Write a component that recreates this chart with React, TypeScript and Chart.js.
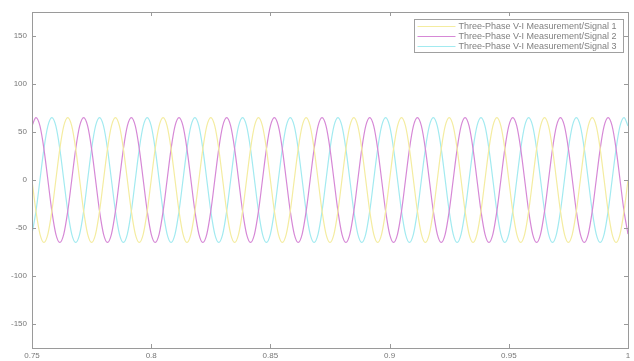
import React, { useEffect, useRef } from "react";
import { Chart, registerables } from "chart.js";

Chart.register(...registerables);

// Sample grid of the scope trace (seconds)
const sampleStart = 0.75;
const sampleStep = 1 / 600;

// Signal 1 (yellow)
const signal1 = [
  0, -32.5, -56.3, -65, -56.3, -32.5, 0, 32.5, 56.3, 65, 56.3, 32.5,
  0, -32.5, -56.3, -65, -56.3, -32.5, 0, 32.5, 56.3, 65, 56.3, 32.5,
  0, -32.5, -56.3, -65, -56.3, -32.5, 0, 32.5, 56.3, 65, 56.3, 32.5,
  0, -32.5, -56.3, -65, -56.3, -32.5, 0, 32.5, 56.3, 65, 56.3, 32.5,
  0, -32.5, -56.3, -65, -56.3, -32.5, 0, 32.5, 56.3, 65, 56.3, 32.5,
  0, -32.5, -56.3, -65, -56.3, -32.5, 0, 32.5, 56.3, 65, 56.3, 32.5,
  0, -32.5, -56.3, -65, -56.3, -32.5, 0, 32.5, 56.3, 65, 56.3, 32.5,
  0, -32.5, -56.3, -65, -56.3, -32.5, 0, 32.5, 56.3, 65, 56.3, 32.5,
  0, -32.5, -56.3, -65, -56.3, -32.5, 0, 32.5, 56.3, 65, 56.3, 32.5,
  0, -32.5, -56.3, -65, -56.3, -32.5, 0, 32.5, 56.3, 65, 56.3, 32.5,
  0, -32.5, -56.3, -65, -56.3, -32.5, 0, 32.5, 56.3, 65, 56.3, 32.5,
  0, -32.5, -56.3, -65, -56.3, -32.5, 0, 32.5, 56.3, 65, 56.3, 32.5,
  0, -32.5, -56.3, -65, -56.3, -32.5, 0,
];

// Signal 2 (magenta)
const signal2 = [
  56.3, 65, 56.3, 32.5, 0, -32.5, -56.3, -65, -56.3, -32.5, 0, 32.5,
  56.3, 65, 56.3, 32.5, 0, -32.5, -56.3, -65, -56.3, -32.5, 0, 32.5,
  56.3, 65, 56.3, 32.5, 0, -32.5, -56.3, -65, -56.3, -32.5, 0, 32.5,
  56.3, 65, 56.3, 32.5, 0, -32.5, -56.3, -65, -56.3, -32.5, 0, 32.5,
  56.3, 65, 56.3, 32.5, 0, -32.5, -56.3, -65, -56.3, -32.5, 0, 32.5,
  56.3, 65, 56.3, 32.5, 0, -32.5, -56.3, -65, -56.3, -32.5, 0, 32.5,
  56.3, 65, 56.3, 32.5, 0, -32.5, -56.3, -65, -56.3, -32.5, 0, 32.5,
  56.3, 65, 56.3, 32.5, 0, -32.5, -56.3, -65, -56.3, -32.5, 0, 32.5,
  56.3, 65, 56.3, 32.5, 0, -32.5, -56.3, -65, -56.3, -32.5, 0, 32.5,
  56.3, 65, 56.3, 32.5, 0, -32.5, -56.3, -65, -56.3, -32.5, 0, 32.5,
  56.3, 65, 56.3, 32.5, 0, -32.5, -56.3, -65, -56.3, -32.5, 0, 32.5,
  56.3, 65, 56.3, 32.5, 0, -32.5, -56.3, -65, -56.3, -32.5, 0, 32.5,
  56.3, 65, 56.3, 32.5, 0, -32.5, -56.3,
];

// Signal 3 (cyan)
const signal3 = [
  -56.3, -32.5, 0, 32.5, 56.3, 65, 56.3, 32.5, 0, -32.5, -56.3, -65,
  -56.3, -32.5, 0, 32.5, 56.3, 65, 56.3, 32.5, 0, -32.5, -56.3, -65,
  -56.3, -32.5, 0, 32.5, 56.3, 65, 56.3, 32.5, 0, -32.5, -56.3, -65,
  -56.3, -32.5, 0, 32.5, 56.3, 65, 56.3, 32.5, 0, -32.5, -56.3, -65,
  -56.3, -32.5, 0, 32.5, 56.3, 65, 56.3, 32.5, 0, -32.5, -56.3, -65,
  -56.3, -32.5, 0, 32.5, 56.3, 65, 56.3, 32.5, 0, -32.5, -56.3, -65,
  -56.3, -32.5, 0, 32.5, 56.3, 65, 56.3, 32.5, 0, -32.5, -56.3, -65,
  -56.3, -32.5, 0, 32.5, 56.3, 65, 56.3, 32.5, 0, -32.5, -56.3, -65,
  -56.3, -32.5, 0, 32.5, 56.3, 65, 56.3, 32.5, 0, -32.5, -56.3, -65,
  -56.3, -32.5, 0, 32.5, 56.3, 65, 56.3, 32.5, 0, -32.5, -56.3, -65,
  -56.3, -32.5, 0, 32.5, 56.3, 65, 56.3, 32.5, 0, -32.5, -56.3, -65,
  -56.3, -32.5, 0, 32.5, 56.3, 65, 56.3, 32.5, 0, -32.5, -56.3, -65,
  -56.3, -32.5, 0, 32.5, 56.3, 65, 56.3,
];

const seriesLabels = [
  "Three-Phase V-I Measurement/Signal 1",
  "Three-Phase V-I Measurement/Signal 2",
  "Three-Phase V-I Measurement/Signal 3",
];

const xTickValues = [0.75, 0.8, 0.85, 0.9, 0.95, 1];
const xTickLabels = ["0.75", "0.8", "0.85", "0.9", "0.95", "1"];
const yTickValues = [-150, -100, -50, 0, 50, 100, 150];
const yTickLabels = ["-150", "-100", "-50", "0", "50", "100", "150"];

const seriesColors = ["#f4eca0", "#d688d6", "#a2eaf0"];
const FONT = "'Liberation Sans', Arial, sans-serif";

const framePlugin = {
  id: "matlabFrame",
  afterDraw(chart: any) {
    const { ctx, chartArea } = chart;
    const { left, right, top, bottom } = chartArea;
    const xs = chart.scales.x;
    const ys = chart.scales.y;
    ctx.save();
    ctx.strokeStyle = "#9a9a9a";
    ctx.lineWidth = 1;
    ctx.strokeRect(Math.round(left) + 0.5, Math.round(top) + 0.5, Math.round(right - left), Math.round(bottom - top));
    ctx.beginPath();
    xTickValues.forEach((v) => {
      const px = Math.round(xs.getPixelForValue(v)) + 0.5;
      ctx.moveTo(px, bottom);
      ctx.lineTo(px, bottom - 4);
      ctx.moveTo(px, top);
      ctx.lineTo(px, top + 4);
    });
    yTickValues.forEach((v) => {
      const py = Math.round(ys.getPixelForValue(v)) + 0.5;
      ctx.moveTo(left, py);
      ctx.lineTo(left + 4, py);
      ctx.moveTo(right, py);
      ctx.lineTo(right - 4, py);
    });
    ctx.stroke();

    // legend box
    ctx.font = `9px ${FONT}`;
    const textW = Math.max(...seriesLabels.map((l) => ctx.measureText(l).width));
    const lineLen = 38;
    const boxW = Math.round(3 + lineLen + 3 + textW + 7);
    const boxH = 33;
    const bx = Math.round(right - 5 - boxW) + 0.5;
    const by = Math.round(top + 7) + 0.5;
    ctx.fillStyle = "#ffffff";
    ctx.fillRect(bx, by, boxW, boxH);
    ctx.strokeStyle = "#a0a0a0";
    ctx.strokeRect(bx, by, boxW, boxH);
    ctx.textBaseline = "middle";
    ctx.textAlign = "left";
    seriesLabels.forEach((label, i) => {
      const ry = Math.round(by + 6 + i * 10);
      ctx.strokeStyle = seriesColors[i];
      ctx.lineWidth = 1;
      ctx.beginPath();
      ctx.moveTo(bx + 3, ry + 0.5);
      ctx.lineTo(bx + 3 + lineLen, ry + 0.5);
      ctx.stroke();
      ctx.fillStyle = "#808080";
      ctx.fillText(label, bx + 3 + lineLen + 3, ry + 0.5);
    });
    ctx.restore();
  },
};

export default function App() {
  const canvasRef = useRef<HTMLCanvasElement | null>(null);

  useEffect(() => {
    document.body.style.margin = "0";
    const canvas = canvasRef.current;
    if (!canvas) return;
    const series = [signal1, signal2, signal3];
    const datasets = series.map((vals, k) => ({
      label: seriesLabels[k],
      data: vals.map((y, i) => ({ x: sampleStart + i * sampleStep, y })),
      borderColor: seriesColors[k],
      backgroundColor: seriesColors[k],
      borderWidth: 1.2,
      pointRadius: 0,
      fill: false,
      cubicInterpolationMode: "monotone" as const,
    }));
    const chart = new Chart(canvas, {
      type: "line",
      data: { datasets },
      options: {
        responsive: false,
        animation: false,
        devicePixelRatio: 1,
        layout: { padding: { top: 12, right: 6, left: 0, bottom: 0 } },
        plugins: { legend: { display: false }, tooltip: { enabled: false } },
        scales: {
          x: {
            type: "linear",
            min: 0.75,
            max: 1,
            grid: { display: false, drawTicks: false, tickLength: 0 },
            border: { display: false },
            afterBuildTicks: (s: any) => {
              s.ticks = xTickValues.map((v) => ({ value: v }));
            },
            afterFit: (s: any) => {
              s.height = 13;
            },
            ticks: {
              autoSkip: false,
              maxRotation: 0,
              padding: 3,
              color: "#777777",
              font: { size: 8, family: FONT },
              callback: (v: any) => xTickLabels[xTickValues.findIndex((t) => Math.abs(t - v) < 1e-9)],
            },
          },
          y: {
            type: "linear",
            min: -175,
            max: 175,
            grid: { display: false, drawTicks: false, tickLength: 0 },
            border: { display: false },
            afterBuildTicks: (s: any) => {
              s.ticks = yTickValues.map((v) => ({ value: v }));
            },
            afterFit: (s: any) => {
              s.width = 32;
            },
            ticks: {
              autoSkip: false,
              padding: 5,
              color: "#777777",
              font: { size: 8, family: FONT },
              callback: (v: any) => yTickLabels[yTickValues.indexOf(v)],
            },
          },
        },
      },
      plugins: [framePlugin],
    });
    return () => chart.destroy();
  }, []);

  return (
    <div style={{ width: 634, height: 361, background: "#ffffff" }}>
      <canvas ref={canvasRef} width={634} height={361} style={{ display: "block" }} />
    </div>
  );
}
